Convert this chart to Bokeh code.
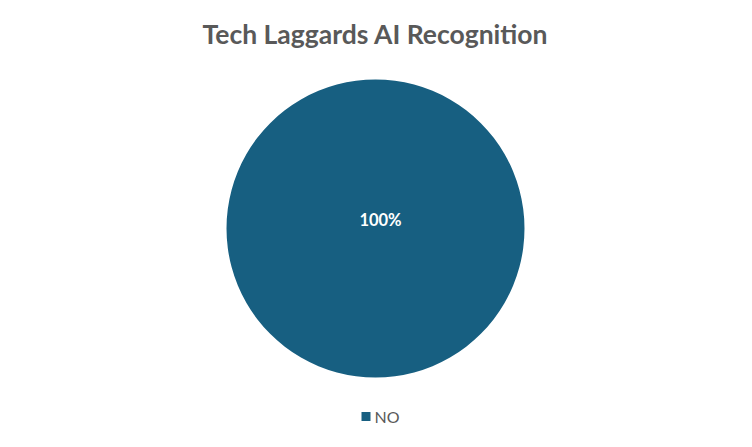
import numpy as np
from bokeh.plotting import figure
from bokeh.models import ColumnDataSource, Range1d
from bokeh.core.properties import value
from bokeh.embed import file_html
from bokeh.resources import INLINE

# Data
title_text = "Tech Laggards AI Recognition"
categories = ["NO"]
values = [100]
colors = ["#175F81"]

W, H = 736, 431
p = figure(width=W, height=H, output_backend="svg", toolbar_location=None,
           x_range=Range1d(0, W), y_range=Range1d(0, H), min_border=0)
p.axis.visible = False
p.grid.visible = False
p.outline_line_color = None
p.background_fill_color = "white"
p.border_fill_color = "white"

cx, cy, r = 375, H - 228, 149
vals = np.array(values, dtype=float)
fr = vals / vals.sum()
ends = np.cumsum(fr) * 2 * np.pi
starts = ends - fr * 2 * np.pi
eps = 1e-5
src = ColumnDataSource(dict(start=[np.pi/2 - e + eps for e in ends],
                            end=[np.pi/2 - s for s in starts],
                            color=colors, cat=categories,
                            label=[f"{v*100:.0f}%" for v in fr]))
p.wedge(x=cx, y=cy, radius=r, start_angle="start", end_angle="end",
        fill_color="color", line_color=None, source=src)

# data label
mid = [(s + e) / 2 for s, e in zip(starts, ends)]
lx = [cx + 5 if f >= 0.999 else cx + 0.6 * r * np.sin(m) for f, m in zip(fr, mid)]
ly = [cy + 9 if f >= 0.999 else cy + 0.6 * r * np.cos(m) for f, m in zip(fr, mid)]
p.text(x=lx, y=ly, text=src.data["label"], text_color="white",
       text_font=value("Lato"), text_font_style="bold", text_font_size="16.5px",
       text_align="center", text_baseline="middle")

# title
p.text(x=[W / 2 + 7], y=[H - 33], text=[title_text], text_color="#595959",
       text_font=value("Lato"), text_font_style="bold", text_font_size="26.5px",
       text_align="center", text_baseline="middle")

# legend
p.scatter(x=[365.5], y=[H - 416], marker="square", size=9, color=colors[0], line_color=None)
p.text(x=[374], y=[H - 415.5], text=categories, text_color="#595959",
       text_font=value("Lato"), text_font_size="16px",
       text_align="left", text_baseline="middle")

open("out.html", "w").write(file_html(p, INLINE))
